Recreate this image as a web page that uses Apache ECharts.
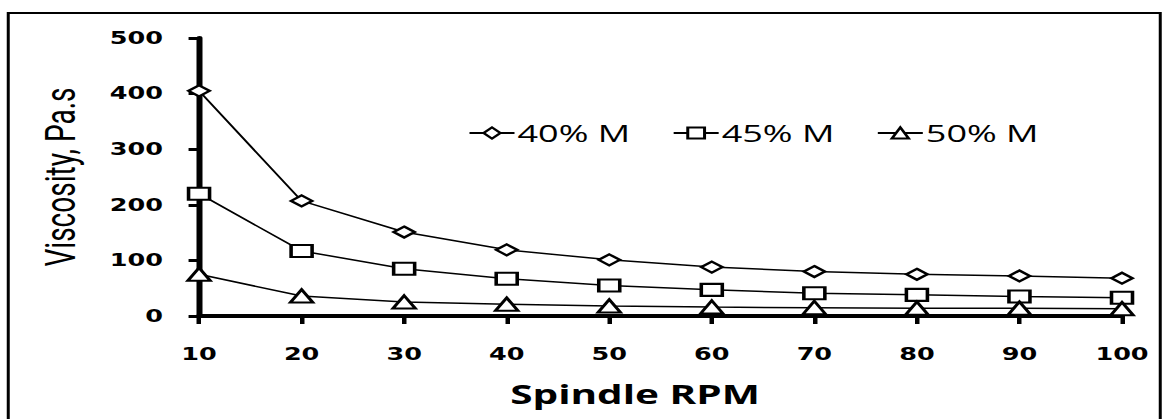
<!DOCTYPE html>
<html lang="en">
<head>
    <meta charset="UTF-8">
    <title>Viscosity vs Spindle RPM</title>
    <script src="https://cdn.jsdelivr.net/npm/echarts@6/dist/echarts.min.js"></script>
    <style>
        body { margin: 0; background: #fff; overflow: hidden; }
        /* the original figure is stretched sideways, so draw narrow and widen it */
        #main { width: 778px; height: 419px; transform: scaleX(1.5); transform-origin: 0 0; }
    </style>
</head>
<body>
    <div id="main"></div>
    <script type="text/javascript">
        // data
        let rpm = [10, 20, 30, 40, 50, 60, 70, 80, 90, 100];
        let m40 = [405, 207, 151, 119, 101, 88, 80, 75, 72, 68];
        let m45 = [220, 117, 85, 67, 55, 47, 41, 38, 35, 33];
        let m50 = [75, 36, 25, 21, 18, 16, 15, 14, 14, 13];

        let myChart = echarts.init(document.getElementById('main'), null, { renderer: 'svg' });

        function makeSeries(name, values, symbol, size) {
            return {
                name: name,
                type: 'line',
                data: rpm.map((x, i) => [x, values[i]]),
                symbol: symbol,
                symbolSize: size,
                showAllSymbol: true,
                lineStyle: { color: '#000', width: 1.5 },
                itemStyle: { color: '#fff', borderColor: '#000', borderWidth: 2.2 },
                emphasis: { disabled: true }
            };
        }

        let axisFont = { fontFamily: 'DejaVu Sans', fontWeight: 'bold', fontSize: 17, color: '#000' };

        let options = {
            animation: false,
            graphic: [{
                type: 'rect',
                shape: { x: 5.5, y: 13, width: 768, height: 420 },
                style: { fill: 'none', stroke: '#000', lineWidth: 2 }
            }],
            legend: {
                top: 116,
                left: 307,
                itemGap: 28,
                itemWidth: 30,
                itemHeight: 14,
                textStyle: { fontFamily: 'Open Sans', fontSize: 24, color: '#000', padding: [0, 0, 0, -3] },
                data: ['40% M', '45% M', '50% M']
            },
            grid: { left: 132.7, right: 30, top: 38, bottom: 103 },
            xAxis: {
                type: 'value',
                min: 10, max: 100, interval: 10,
                name: 'Spindle RPM',
                nameLocation: 'middle',
                nameGap: 64,
                nameTextStyle: { fontFamily: 'Open Sans', fontWeight: 'bold', fontSize: 27, color: '#000', padding: [0, 34, 0, 0] },
                axisLine: { lineStyle: { color: '#000', width: 4 } },
                axisTick: { show: true, length: 8, lineStyle: { color: '#000', width: 3 } },
                axisLabel: Object.assign({ margin: 30 }, axisFont),
                splitLine: { show: false }
            },
            yAxis: {
                type: 'value',
                min: 0, max: 500, interval: 100,
                name: 'Viscosity, Pa.s',
                nameLocation: 'middle',
                nameGap: 78,
                nameTextStyle: { fontFamily: 'Roboto', fontSize: 28, color: '#000' },
                axisLine: { show: true, lineStyle: { color: '#000', width: 4 } },
                axisTick: { show: true, length: 7, lineStyle: { color: '#000', width: 3 } },
                axisLabel: Object.assign({ margin: 24 }, axisFont),
                splitLine: { show: false }
            },
            series: [
                makeSeries('40% M', m40, 'diamond', [14, 11]),
                makeSeries('45% M', m45, 'rect', [14, 12]),
                makeSeries('50% M', m50, 'triangle', [15, 13])
            ]
        };

        myChart.setOption(options);
    </script>
</body>
</html>
